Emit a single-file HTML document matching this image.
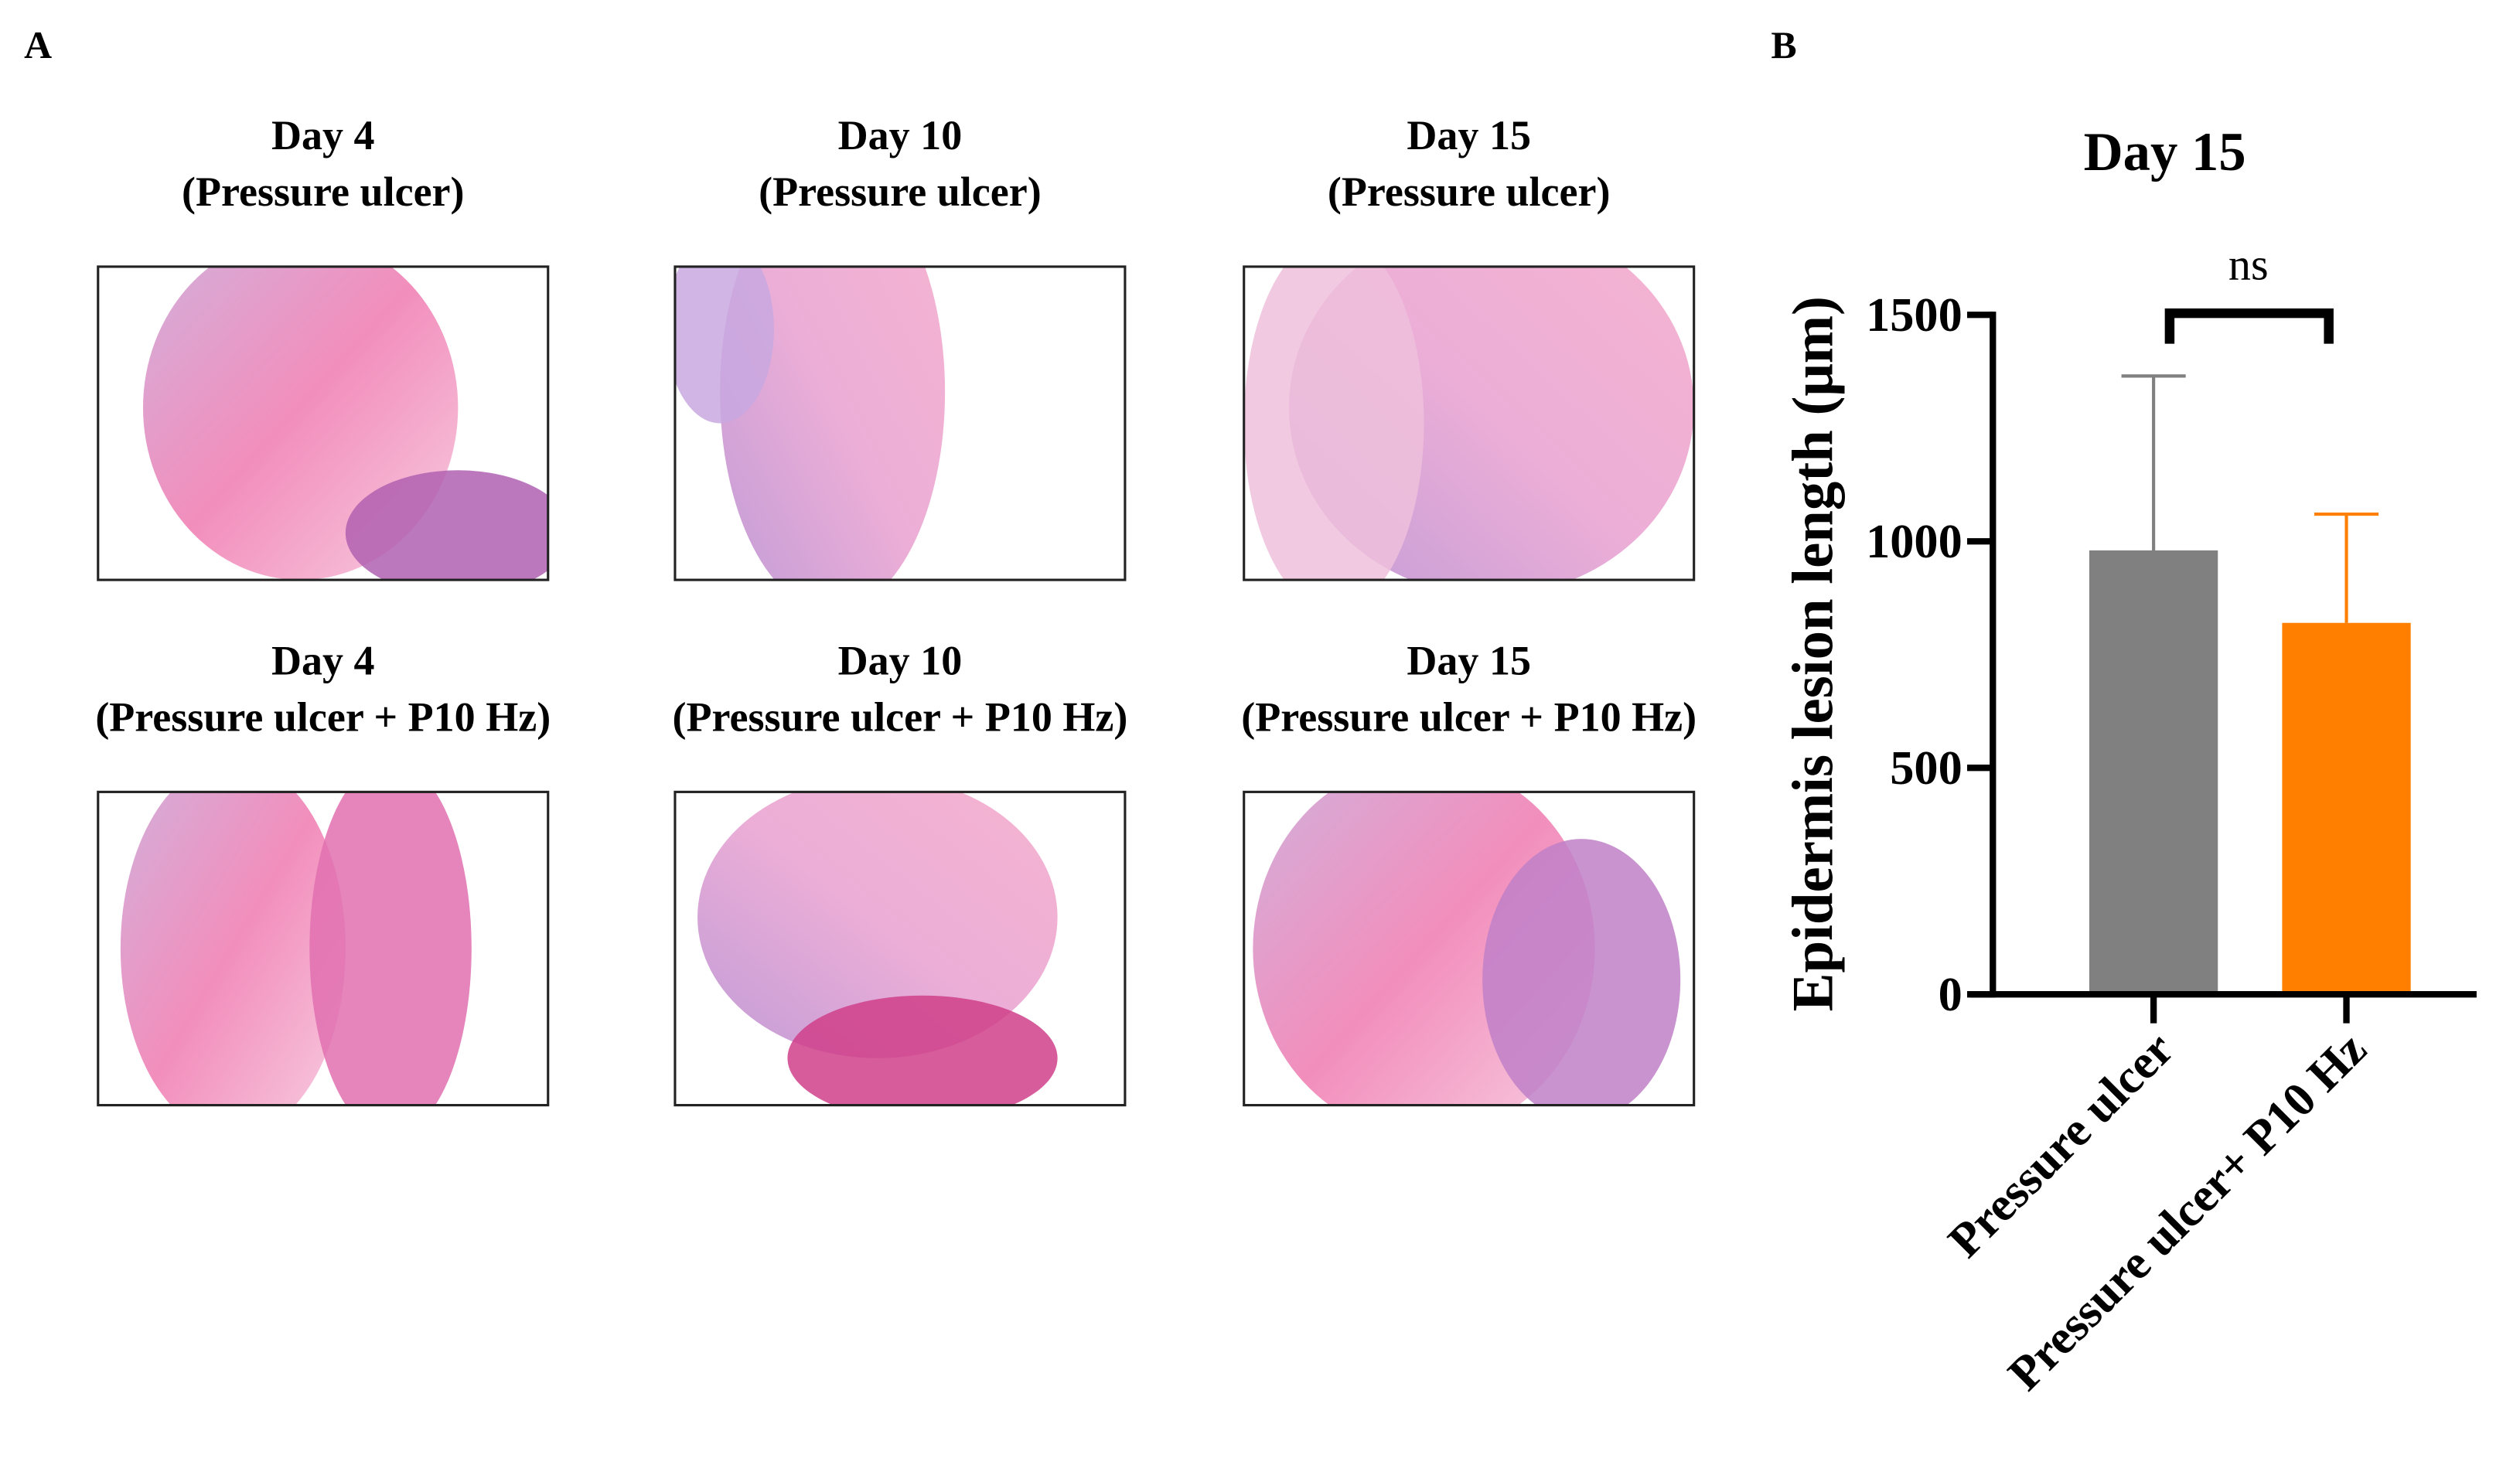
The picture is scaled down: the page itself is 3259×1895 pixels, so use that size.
<!DOCTYPE html>
<html><head><meta charset="utf-8">
<style>
html,body{margin:0;padding:0;background:#fff;}
svg{display:block;}
text{font-family:"Liberation Serif",serif;font-weight:bold;fill:#000;}
</style></head>
<body>
<svg id="fig" width="3259" height="1895" viewBox="0 0 1568 912" preserveAspectRatio="none" xmlns="http://www.w3.org/2000/svg">
<defs>
<linearGradient id="g1" x1="0" y1="0" x2="1" y2="1"><stop offset="0" stop-color="#c9a3d6"/><stop offset="0.5" stop-color="#f07ab0"/><stop offset="1" stop-color="#f6c6dc"/></linearGradient>
<linearGradient id="g2" x1="1" y1="0" x2="0" y2="1"><stop offset="0" stop-color="#f4a6c8"/><stop offset="0.5" stop-color="#e9a0d0"/><stop offset="1" stop-color="#b58ad0"/></linearGradient>
</defs>
<text x="15" y="36" font-size="24">A</text>
<text x="1102" y="36" font-size="24">B</text>
<g id="panels"></g>

<g id="chart"></g>
</svg>
<script>
const categories = ["Pressure ulcer", "Pressure ulcer+ P10 Hz"];
const means = [980, 820];
const errTops = [1365, 1060];
const yTicks = [0, 500, 1000, 1500];
const colors = ["#808080", "#ff8000"];

const NS = "http://www.w3.org/2000/svg";
function mk(tag, attrs, parent, txt){
  const e = document.createElementNS(NS, tag);
  for (const k in attrs) e.setAttribute(k, attrs[k]);
  if (txt !== undefined) e.textContent = txt;
  parent.appendChild(e); return e;
}

// Histology panels
const panels = document.getElementById('panels');
const cols = [61, 420, 774];
const rows = [166, 493];
const days = ["Day 4","Day 10","Day 15"];
const subs = ["(Pressure ulcer)","(Pressure ulcer + P10 Hz)"];
rows.forEach((ry, r) => {
  cols.forEach((cx, c) => {
    const cxm = cx + 140;
    const t1 = mk('text', {x: cxm, y: ry - 73, 'font-size': 26, 'text-anchor': 'middle'}, panels, days[c]);
    
    
    const t2 = mk('text', {x: cxm, y: ry - 38, 'font-size': 26, 'text-anchor': 'middle'}, panels, subs[r]);
    
    
    const g = mk('g', {}, panels);
    
    
    mk('rect', {x: cx, y: ry, width: 280, height: 195, fill: '#fff'}, g);
    const clipId = 'c' + r + c;
    const cp = mk('clipPath', {id: clipId}, g);
    mk('rect', {x: cx, y: ry, width: 280, height: 195}, cp);
    const inner = mk('g', {'clip-path': 'url(#' + clipId + ')'}, g);
    const k = r * 3 + c;
    const shapes = [
      [[0.45,0.45,0.35,0.55,'url(#g1)'],[0.8,0.85,0.25,0.2,'#b060b0']],
      [[0.35,0.4,0.25,0.7,'url(#g2)'],[0.1,0.2,0.12,0.3,'#c8a8e0']],
      [[0.55,0.45,0.45,0.6,'url(#g2)'],[0.2,0.5,0.2,0.6,'#eec0dc']],
      [[0.3,0.5,0.25,0.6,'url(#g1)'],[0.65,0.5,0.18,0.6,'#e070b0']],
      [[0.45,0.4,0.4,0.45,'url(#g2)'],[0.55,0.85,0.3,0.2,'#d0408a']],
      [[0.4,0.5,0.38,0.6,'url(#g1)'],[0.75,0.6,0.22,0.45,'#c080c8']]
    ][k];
    shapes.forEach(s => mk('ellipse', {cx: cx + s[0]*280, cy: ry + s[1]*195, rx: s[2]*280, ry: s[3]*195, fill: s[4], opacity: 0.85}, inner));
    mk('rect', {x: cx, y: ry, width: 280, height: 195, fill: 'none', stroke: '#222', 'stroke-width': 1.5}, g);
  });
});

// Bar chart
const chart = document.getElementById('chart');
const axX = 1240, y0 = 619, y1500 = 196;
const yS = v => y0 - (v / 1500) * (y0 - y1500);
const xCenters = [1340, 1460];
const xS = i => xCenters[0] + i * (xCenters[1] - xCenters[0]);
const barW = 80;

const title = mk('text', {x: 1347, y: 106, 'font-size': 34, 'text-anchor': 'middle'}, chart, 'Day 15');



categories.forEach((cat, i) => {
  const xc = xS(i);
  const err = mk('line', {x1: xc, x2: xc, y1: yS(means[i]), y2: yS(errTops[i]), stroke: colors[i], 'stroke-width': 2}, chart);
  
  
  const cap = mk('line', {x1: xc - 20, x2: xc + 20, y1: yS(errTops[i]), y2: yS(errTops[i]), stroke: colors[i], 'stroke-width': 2}, chart);
  
  
  const b = mk('rect', {x: xc - barW/2, y: yS(means[i]), width: barW, height: y0 - yS(means[i]), fill: colors[i]}, chart);
  
  
  const tk = mk('line', {x1: xc, x2: xc, y1: y0, y2: y0 + 18, stroke: '#000', 'stroke-width': 4}, chart);
  
  
  const lx = xc + 14, ly = y0 + 36;
  const lab = mk('text', {x: lx, y: ly, 'font-size': 30, 'text-anchor': 'end', transform: 'rotate(-45 ' + lx + ' ' + ly + ')'}, chart, cat);
  
  
});

const yAxis = mk('line', {x1: axX, x2: axX, y1: y1500 - 2, y2: y0 + 2, stroke: '#000', 'stroke-width': 4}, chart);


const xAxis = mk('line', {x1: 1226, x2: 1541, y1: y0, y2: y0, stroke: '#000', 'stroke-width': 4}, chart);



yTicks.forEach(v => {
  const t = mk('line', {x1: axX - 16, x2: axX, y1: yS(v), y2: yS(v), stroke: '#000', 'stroke-width': 4}, chart);
  
  
  const l = mk('text', {x: axX - 19, y: yS(v) + 10, 'font-size': 30, 'text-anchor': 'end'}, chart, String(v));
  
  
});

const yl = mk('text', {x: 1140, y: 407, 'font-size': 36, 'text-anchor': 'middle', transform: 'rotate(-90 1140 407)'}, chart, 'Epidermis lesion length (\u03bcm)');



const br = mk('path', {d: 'M1350 214 V195 H1449 V214', fill: 'none', stroke: '#000', 'stroke-width': 6}, chart);


const ns = mk('text', {x: 1399, y: 174, 'font-size': 28, 'text-anchor': 'middle', style: 'font-weight:normal'}, chart, 'ns');


</script>
</body></html>
